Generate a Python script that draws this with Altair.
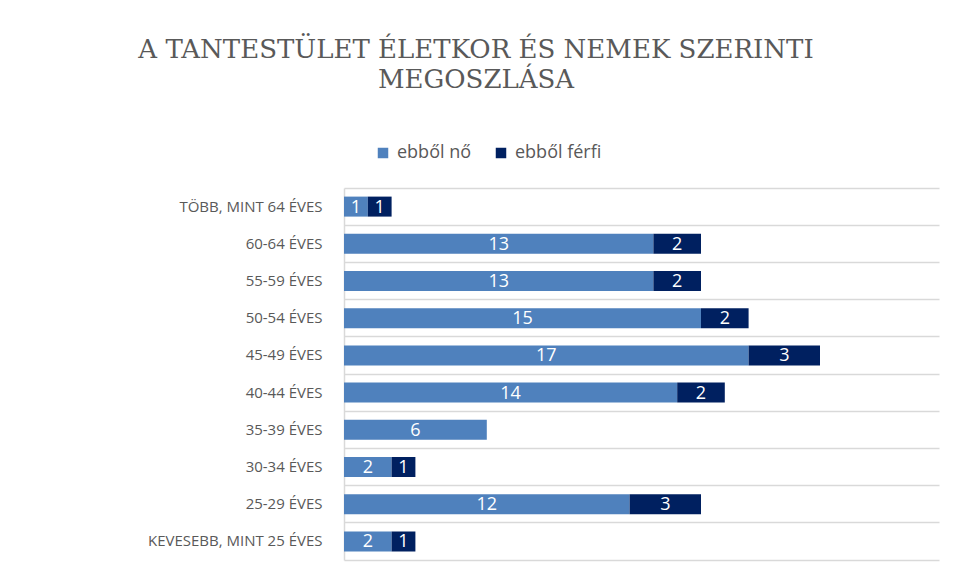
import altair as alt
import pandas as pd

categories = [
    "TÖBB, MINT 64 ÉVES",
    "60-64 ÉVES ",
    "55-59 ÉVES",
    "50-54 ÉVES",
    "45-49 ÉVES",
    "40-44 ÉVES",
    "35-39 ÉVES",
    "30-34 ÉVES",
    "25-29 ÉVES",
    "KEVESEBB, MINT 25 ÉVES",
]
no_values = [1, 13, 13, 15, 17, 14, 6, 2, 12, 2]
ferfi_values = [1, 2, 2, 2, 3, 2, 0, 1, 3, 1]
series = ["ebből nő", "ebből férfi"]
colors = ["#4F81BD", "#002060"]

rows = []
for c, n, f in zip(categories, no_values, ferfi_values):
    if n:
        rows.append({"kat": c, "sorozat": series[0], "rend": 0, "ertek": n})
    if f:
        rows.append({"kat": c, "sorozat": series[1], "rend": 1, "ertek": f})
df = pd.DataFrame(rows)

base = alt.Chart(df).transform_stack(
    stack="ertek", groupby=["kat"], as_=["x0", "x1"], sort=[alt.SortField("rend", order="ascending")]
).transform_calculate(mid="(datum.x0 + datum.x1) / 2")

y_enc = alt.Y(
    "kat:N",
    sort=categories,
    scale=alt.Scale(paddingInner=0, paddingOuter=0),
    axis=alt.Axis(
        title=None,
        ticks=False,
        domain=True,
        domainColor="#D9D9D9",
        domainWidth=1.5,
        grid=True,
        gridColor="#D9D9D9",
        gridWidth=1.5,
        bandPosition=0,
        labelFont="Open Sans",
        labelFontSize=15,
        labelColor="#595959",
        labelPadding=22,
        labelLimit=400,
        minExtent=331,
        maxExtent=331,
    ),
)

x_scale = alt.Scale(domain=[0, 25], nice=False)

bars = base.mark_bar(size=20).encode(
    y=y_enc,
    x=alt.X(
        "x0:Q",
        scale=x_scale,
        axis=alt.Axis(
            title=None, labels=False, ticks=False, grid=False,
            domain=True, domainColor="#D9D9D9", domainWidth=1.5,
        ),
    ),
    x2="x1:Q",
    color=alt.Color(
        "sorozat:N",
        sort=series,
        scale=alt.Scale(domain=series, range=colors),
        legend=alt.Legend(
            title=None,
            orient="none",
            direction="horizontal",
            legendX=30,
            legendY=-44,
            symbolType="square",
            symbolSize=110,
            symbolStrokeWidth=0,
            labelFont="Open Sans",
            labelFontSize=18,
            labelColor="#595959",
            columnPadding=20,
            labelOffset=5,
        ),
    ),
)

labels = base.mark_text(color="white", font="Open Sans", fontSize=18, baseline="middle", dy=1).encode(
    y=alt.Y("kat:N", sort=categories),
    x=alt.X("mid:Q", scale=x_scale),
    text=alt.Text("ertek:Q"),
)

chart = (
    alt.layer(bars, labels)
    .properties(
        width=595,
        height=372,
        title=alt.TitleParams(
            ["A TANTESTÜLET ÉLETKOR ÉS NEMEK SZERINTI", "MEGOSZLÁSA"],
            font="DejaVu Serif",
            fontSize=26,
            fontWeight="normal",
            color="#595959",
            anchor="middle",
            frame="bounds",
            lineHeight=30,
            offset=51,
        ),
        padding={"left": 5, "top": 29, "right": 10, "bottom": 5},
    )
    .configure(background="white", view=alt.ViewConfig(stroke="transparent", strokeWidth=0))
)

chart.save("out.html", embed_options={"renderer": "svg", "actions": False})
